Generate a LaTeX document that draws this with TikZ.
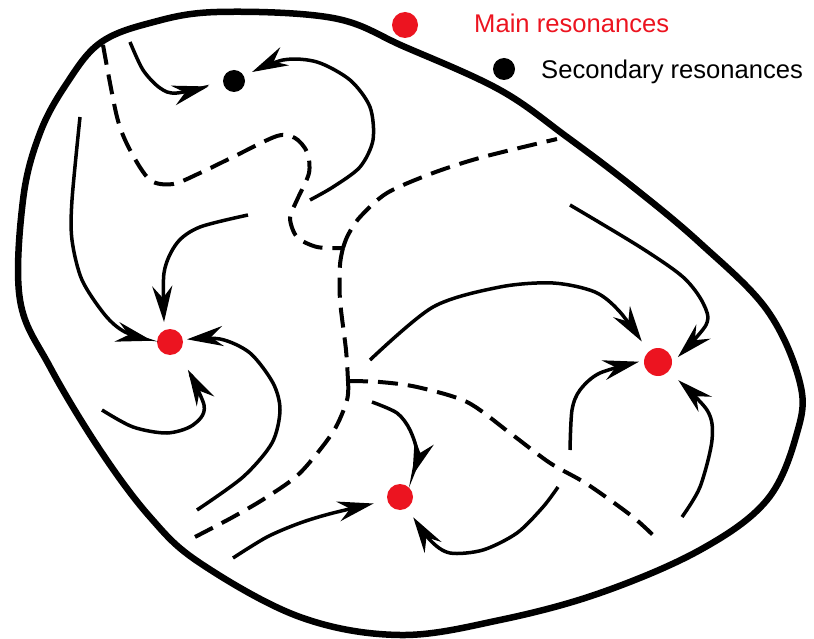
\documentclass[tikz,border=0pt]{standalone}
\usepackage{fontspec}
\setmainfont{Liberation Sans}
\usetikzlibrary{arrows.meta}
\definecolor{resred}{RGB}{236,20,32}
\begin{document}
\begin{tikzpicture}[x=1pt,y=-1pt,
  boundary/.style={line width=6.5pt, line join=round},
  sep/.style={line width=4pt, dash pattern=on 20pt off 10pt},
  traj/.style={line width=3.5pt, -{Stealth[length=36pt,width=20pt,inset=12pt]}},
  maindot/.style={circle, fill=resred, inner sep=0pt, minimum size=26pt},
  secdot/.style={circle, fill=black, inner sep=0pt, minimum size=22pt},
  legend/.style={font=\fontsize{25.6}{30}\selectfont, anchor=base west, inner sep=0pt}]
\useasboundingbox (0,0) rectangle (814,639);
% outer boundary
\draw[boundary] plot[smooth cycle, tension=0.6] coordinates {(217,12) (333,18) (405,47) (500,90) (567,137) (633,187) (700,243) (767,310) (800,383) (797,433) (767,500) (700,550) (600,593) (500,620) (400,635) (300,617) (200,563) (150,517) (100,450) (50,367) (20,300) (23,200) (40,133) (67,83) (100,43) (150,23)};
% legend
\node[maindot] (lm) at (405,25) {};
\node[secdot] (ls) at (504,69) {};
\node[legend, text=resred] (tm) at (474,33) {Main resonances};
\node[legend] (ts) at (541,79) {Secondary resonances};
% resonances
\node[maindot] (r1) at (170,342) {};
\node[maindot] (r2) at (400,497) {};
\node[maindot, minimum size=28pt] (r3) at (658,362) {};
\node[secdot] (b1) at (234,81) {};
% separatrices
\coordinate (j1) at (343,248);
\coordinate (j2) at (348,381);
\draw[sep] plot[smooth] coordinates {(103,45) (117,117) (130,150) (150,180) (173,184) (200,173) (233,157) (277,136) (295,138) (307,152) (309,173) (297,200) (290,218) (297,237) (317,247) (j1)};
\draw[sep] plot[smooth] coordinates {(j1) (348,235) (360,217) (387,193) (433,173) (483,157) (557,139)};
\draw[sep] plot[smooth] coordinates {(j1) (340,265) (340,300) (346,350) (j2)};
\draw[sep] plot[smooth] coordinates {(j2) (380,382) (417,387) (467,402) (510,433) (550,463) (587,484) (633,517) (658,540)};
\draw[sep] plot[smooth] coordinates {(j2) (347,400) (333,432) (300,473) (267,497) (233,517) (193,538)};
% trajectories
\draw[traj, shorten >=15pt] plot[smooth] coordinates {(130,42) (143,70) (160,88) (177,93) (b1.189)};
\draw[traj, shorten >=9pt] plot[smooth] coordinates {(310,200) (333,187) (360,167) (373,140) (370,107) (350,80) (317,62) (283,60) (b1.27)};
\draw[traj, shorten >=5pt] plot[smooth] coordinates {(80,117) (72,200) (72,240) (82,280) (105,315) (125,332) (r1.180)};
\draw[traj, shorten >=8pt] plot[smooth] coordinates {(248,215) (200,227) (177,243) (164,273) (r1.115)};
\draw[traj, shorten >=4pt] plot[smooth] coordinates {(197,510) (243,477) (272,443) (280,410) (273,383) (250,353) (220,339) (r1.10)};
\draw[traj, shorten >=20pt] plot[smooth] coordinates {(102,410) (133,427) (167,433) (193,425) (204,405) (r1.-52)};
\draw[traj, shorten >=14pt] plot[smooth] coordinates {(233,558) (267,537) (300,523) (333,513) (r2.195)};
\draw[traj, shorten >=12pt] plot[smooth] coordinates {(372,402) (397,413) (410,430) (417,455) (r2.50)};
\draw[traj, shorten >=11pt] plot[smooth] coordinates {(558,487) (543,507) (517,533) (483,550) (450,553) (430,540) (r2.-57)};
\draw[traj, shorten >=12pt] plot[smooth] coordinates {(370,360) (433,307) (500,287) (553,283) (595,292) (620,312) (r3.132)};
\draw[traj, shorten >=8pt] plot[smooth] coordinates {(570,205) (640,247) (683,277) (703,303) (706,325) (r3.-3)};
\draw[traj, shorten >=5pt] plot[smooth] coordinates {(570,450) (572,410) (580,390) (600,373) (r3.174)};
\draw[traj, shorten >=13pt] plot[smooth] coordinates {(682,517) (700,487) (712,440) (707,410) (r3.-42)};
\end{tikzpicture}
\end{document}
